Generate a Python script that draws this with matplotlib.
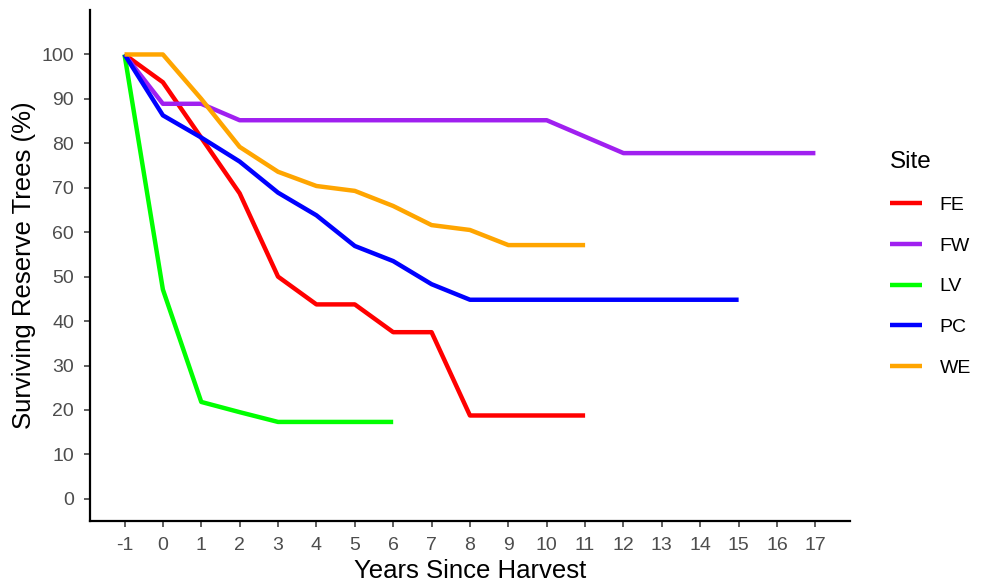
import matplotlib
matplotlib.use("Agg")
import matplotlib.pyplot as plt

plt.rcParams['font.family'] = ['Liberation Sans', 'DejaVu Sans']
plt.rcParams['axes.unicode_minus'] = False

# survival (%) by years since harvest
years_fe = [-1, 0, 1, 2, 3, 4, 5, 6, 7, 8, 9, 10, 11]
fe = [100, 93.75, 81.25, 68.75, 50, 43.75, 43.75, 37.5, 37.5, 18.75, 18.75, 18.75, 18.75]

years_fw = list(range(-1, 18))
fw = [100, 88.9, 88.9, 85.2, 85.2, 85.2, 85.2, 85.2, 85.2, 85.2, 85.2, 85.2, 81.5,
      77.8, 77.8, 77.8, 77.8, 77.8, 77.8]

years_lv = [-1, 0, 1, 2, 3, 4, 5, 6]
lv = [100, 47.1, 21.8, 19.5, 17.3, 17.3, 17.3, 17.3]

years_pc = list(range(-1, 16))
pc = [100, 86.3, 81.3, 75.9, 68.9, 63.8, 56.9, 53.5, 48.3, 44.8, 44.8, 44.8, 44.8,
      44.8, 44.8, 44.8, 44.8]

years_we = list(range(-1, 12))
we = [100, 100, 90.0, 79.2, 73.6, 70.4, 69.3, 65.9, 61.6, 60.5, 57.1, 57.1, 57.1]

sites = ['FE', 'FW', 'LV', 'PC', 'WE']
colors = ['#FF0000', '#A020F0', '#00FF00', '#0000FF', '#FFA500']
series = [(years_fe, fe), (years_fw, fw), (years_lv, lv), (years_pc, pc), (years_we, we)]

fig = plt.figure(figsize=(9.81, 5.87), dpi=100)
ax = fig.add_axes([0.0917, 0.1124, 0.7747, 0.8705])

for name, col, (x, y) in zip(sites, colors, series):
    ax.plot(x, y, color=col, lw=3.2, label=name, solid_capstyle='butt')

ax.set_xlim(-1.9, 17.9)
ax.set_ylim(-5, 110)
ax.set_xticks(range(-1, 18))
ax.set_yticks(range(0, 101, 10))
ax.tick_params(axis='both', labelsize=14, colors='#333333', labelcolor='#4D4D4D',
               length=4.5, width=1.1, direction='out', pad=7)

for side in ['top', 'right']:
    ax.spines[side].set_visible(False)
for side in ['left', 'bottom']:
    ax.spines[side].set_linewidth(1.6)
    ax.spines[side].set_color('black')

ax.set_xlabel('Years Since Harvest', fontsize=18.5, labelpad=3.5)
ax.set_ylabel('Surviving Reserve Trees (%)', fontsize=18.5, labelpad=4)

leg = ax.legend(title='Site', loc='upper left', bbox_to_anchor=(1.03, 0.758),
                frameon=False, fontsize=14, title_fontsize=17.5,
                handlelength=1.65, handletextpad=0.9, labelspacing=1.19)
leg._legend_box.align = 'left'

fig.savefig('out.png', dpi=100)
